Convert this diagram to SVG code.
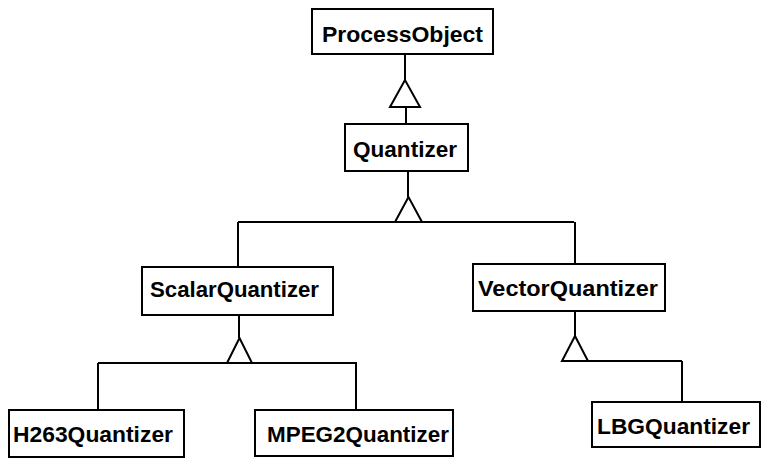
<svg xmlns="http://www.w3.org/2000/svg" width="763" height="459" viewBox="0 0 763 459">
<style>
.box{fill:#fff;stroke:#000;stroke-width:2}
.lbl{font-family:"Liberation Sans",Arial,sans-serif;font-weight:bold;font-size:22px;fill:#000}
.c{fill:none;stroke:#000;stroke-width:2}
.tri{fill:#fff;stroke:#000;stroke-width:2;stroke-linejoin:miter}
</style>
<rect width="763" height="459" fill="#fff"/>
<g id="connectors">
<path class="c" d="M405,54 V80 M406,107 V124"/>
<polygon class="tri" points="405,80 390,107 420,107"/>
<path class="c" d="M408,171 V197 M238,222 H574 M238,222 V267 M575,222 V264"/>
<polygon class="tri" points="408.5,197 395,222 422,222"/>
<path class="c" d="M239,315 V338 M98,363 H357 M98,363 V410 M356,363 V410"/>
<polygon class="tri" points="239.5,338 227,363 252,363"/>
<path class="c" d="M575,311 V336 M562,361 H682 M682,361 V402"/>
<polygon class="tri" points="575,336 562,361 588,361"/>
</g>
<g id="ProcessObject"><rect class="box" x="312" y="9" width="181" height="45"/><text class="lbl" x="322" y="42" textLength="161" lengthAdjust="spacingAndGlyphs">ProcessObject</text></g>
<g id="Quantizer"><rect class="box" x="345" y="124" width="123" height="47"/><text class="lbl" x="353" y="157" textLength="104" lengthAdjust="spacingAndGlyphs">Quantizer</text></g>
<g id="ScalarQuantizer"><rect class="box" x="142" y="267" width="191" height="48"/><text class="lbl" x="150" y="297" textLength="169" lengthAdjust="spacingAndGlyphs">ScalarQuantizer</text></g>
<g id="VectorQuantizer"><rect class="box" x="473" y="264" width="192" height="47"/><text class="lbl" x="478" y="296" textLength="180" lengthAdjust="spacingAndGlyphs">VectorQuantizer</text></g>
<g id="H263Quantizer"><rect class="box" x="9" y="410" width="175" height="47"/><text class="lbl" x="13" y="442" textLength="160" lengthAdjust="spacingAndGlyphs">H263Quantizer</text></g>
<g id="MPEG2Quantizer"><rect class="box" x="255" y="410" width="198" height="46"/><text class="lbl" x="267" y="442" textLength="182" lengthAdjust="spacingAndGlyphs">MPEG2Quantizer</text></g>
<g id="LBGQuantizer"><rect class="box" x="592" y="402" width="168" height="45"/><text class="lbl" x="597" y="434" textLength="153" lengthAdjust="spacingAndGlyphs">LBGQuantizer</text></g>
</svg>
